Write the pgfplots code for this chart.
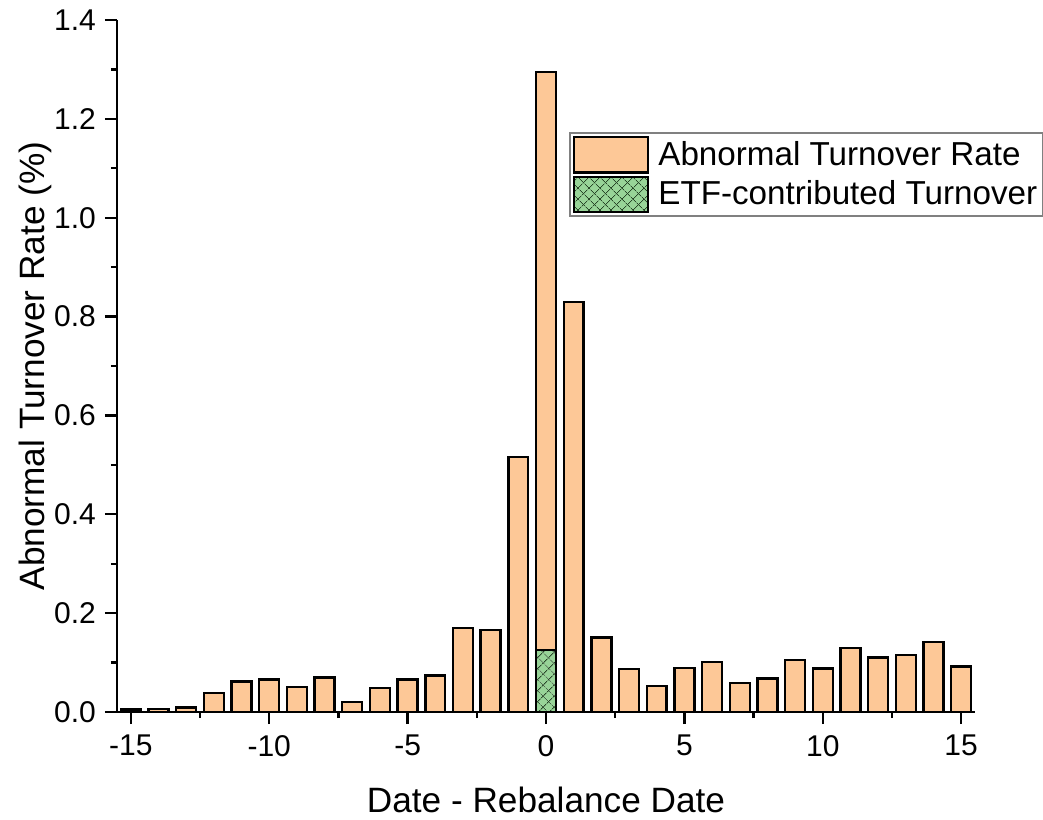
\documentclass[border=0pt]{standalone}
\usepackage{fontspec}
\setmainfont{Liberation Sans}
\usepackage{pgfplots}
\pgfplotsset{compat=1.18}
\usetikzlibrary{patterns.meta}
\definecolor{barorange}{RGB}{253,200,151}
\definecolor{bargreen}{RGB}{152,212,152}
\definecolor{hatch}{RGB}{40,70,40}
\begin{document}
\begin{tikzpicture}
\begin{axis}[
  scale only axis, width=429pt, height=346pt,
  xmin=-15.5, xmax=15.5, ymin=0, ymax=1.4,
  axis lines*=left,
  axis line style={line width=1.2pt},
  tick style={line width=1.2pt, black},
  tick align=outside,
  major tick length=6pt, minor tick length=3pt,
  xtick={-15,-10,-5,0,5,10,15},
  minor xtick={-12.5,-7.5,-2.5,2.5,7.5,12.5},
  ytick={0,0.2,0.4,0.6,0.8,1.0,1.2,1.4},
  minor ytick={0.1,0.3,0.5,0.7,0.9,1.1,1.3},
  yticklabel style={xshift=-1pt, /pgf/number format/.cd, fixed, fixed zerofill, precision=1},
  /pgf/number format/assume math mode=true,
  ticklabel style={font=\fontsize{15}{17}\selectfont},
  xticklabel style={yshift=-2pt},
  xlabel={Date - Rebalance Date},
  ylabel={Abnormal Turnover Rate (\%)},
  label style={font=\fontsize{17.6}{20}\selectfont},
  xlabel style={at={(axis description cs:0.5,-0.127)}, anchor=center},
  ylabel style={at={(axis description cs:-0.0956,0.5)}, anchor=center},
  ybar, bar width=0.72, bar shift=0pt,
  legend style={at={(0.527,0.838)}, anchor=north west, draw=black!50, line width=0.8pt,
    font=\fontsize{16.6}{18}\selectfont, inner sep=1.5pt, row sep=1pt, column sep=3pt,
    nodes={inner sep=1.5pt}},
  legend cell align=left,
  legend image code/.code={\draw[#1, line width=1.2pt] (0pt,-8.8pt) rectangle (37pt,8.8pt);},
]
\addplot[draw=black, line width=1.2pt, fill=barorange] coordinates {
(-15,0.005) (-14,0.006) (-13,0.009) (-12,0.039) (-11,0.062) (-10,0.066)
(-9,0.050) (-8,0.070) (-7,0.020) (-6,0.049) (-5,0.066) (-4,0.074)
(-3,0.170) (-2,0.166) (-1,0.516) (0,1.295) (1,0.829) (2,0.151)
(3,0.087) (4,0.053) (5,0.089) (6,0.101) (7,0.059) (8,0.068)
(9,0.105) (10,0.088) (11,0.130) (12,0.110) (13,0.115) (14,0.142) (15,0.092)
};
\addlegendentry{Abnormal Turnover Rate}
\addplot[draw=black, line width=1.2pt, fill=bargreen,
  postaction={pattern={Lines[angle=45,distance=4pt,line width=0.45pt]}, pattern color=hatch},
  postaction={pattern={Lines[angle=-45,distance=4pt,line width=0.45pt]}, pattern color=hatch}]
  coordinates {(0,0.126)};
\addlegendentry{ETF-contributed Turnover}
\end{axis}
\pgfresetboundingbox
\path (-58.5pt,-53.5pt) rectangle (463pt,356pt);
\end{tikzpicture}
\end{document}
